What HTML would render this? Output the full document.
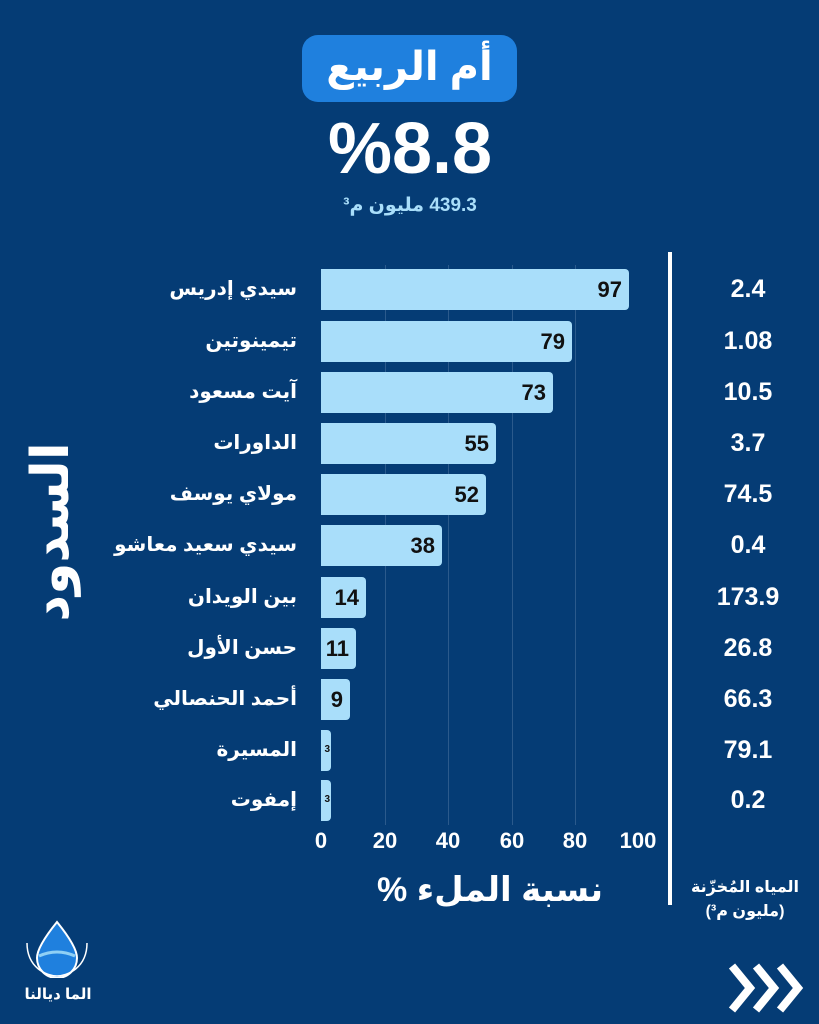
<!DOCTYPE html>
<html><head><meta charset="utf-8"><style>
body{margin:0;width:819px;height:1024px;background:#053c75;overflow:hidden;position:relative;font-family:"Liberation Sans","DejaVu Sans","Noto Sans CJK SC",sans-serif;color:#fff}
.a{position:absolute}
.lbl{position:absolute;right:522px;font-size:20px;font-weight:bold;direction:rtl;white-space:nowrap;line-height:24px}
.bar{position:absolute;left:321px;height:41px;background:#a9defa;border-radius:0 4px 4px 0}
.bar span{position:absolute;right:7px;top:8px;font-size:22px;font-weight:bold;color:#111}
.val{position:absolute;left:690px;width:116px;text-align:center;font-size:25px;font-weight:bold;line-height:30px}
.tick{position:absolute;top:828px;font-size:22px;font-weight:bold;width:60px;text-align:center}
.grid{position:absolute;top:265px;height:560px;width:1px;background:#2b5a8c}
</style></head><body>
<div class="a" style="left:302px;top:35px;width:215px;height:67px;background:#1f80de;border-radius:16px;text-align:center;font-size:40px;font-weight:bold;line-height:64px;direction:rtl">أم الربيع</div>
<div class="a" style="left:260px;top:106px;width:300px;text-align:center;font-size:72px;font-weight:bold;line-height:86px">%8.8</div>
<div class="a" style="left:260px;top:194px;width:300px;text-align:center;font-size:19px;font-weight:bold;color:#a9defa;direction:rtl">439.3 مليون م³</div>

<div class="grid" style="left:385px"></div>
<div class="grid" style="left:448px"></div>
<div class="grid" style="left:512px"></div>
<div class="grid" style="left:575px"></div>
<div class="a" style="left:668px;top:252px;width:4px;height:653px;background:#fff"></div>

<div class="a" style="left:-49px;top:502px;width:200px;height:60px;text-align:center;transform:rotate(-90deg);font-size:52px;font-weight:bold;line-height:60px;direction:rtl">السدود</div>

<div class="lbl" style="top:277px">سيدي إدريس</div>
<div class="lbl" style="top:329px">تيمينوتين</div>
<div class="lbl" style="top:380px">آيت مسعود</div>
<div class="lbl" style="top:431px">الداورات</div>
<div class="lbl" style="top:482px">مولاي يوسف</div>
<div class="lbl" style="top:533px">سيدي سعيد معاشو</div>
<div class="lbl" style="top:585px">بين الويدان</div>
<div class="lbl" style="top:636px">حسن الأول</div>
<div class="lbl" style="top:687px">أحمد الحنصالي</div>
<div class="lbl" style="top:738px">المسيرة</div>
<div class="lbl" style="top:788px">إمفوت</div>

<div class="bar" style="top:269px;width:308px"><span>97</span></div>
<div class="bar" style="top:321px;width:251px"><span>79</span></div>
<div class="bar" style="top:372px;width:232px"><span>73</span></div>
<div class="bar" style="top:423px;width:175px"><span>55</span></div>
<div class="bar" style="top:474px;width:165px"><span>52</span></div>
<div class="bar" style="top:525px;width:121px"><span>38</span></div>
<div class="bar" style="top:577px;width:45px"><span>14</span></div>
<div class="bar" style="top:628px;width:35px"><span>11</span></div>
<div class="bar" style="top:679px;width:29px"><span>9</span></div>
<div class="bar" style="top:730px;width:10px"><span style="font-size:10px;right:1px;top:14px">3</span></div>
<div class="bar" style="top:780px;width:10px"><span style="font-size:10px;right:1px;top:14px">3</span></div>

<div class="val" style="top:274px">2.4</div>
<div class="val" style="top:326px">1.08</div>
<div class="val" style="top:377px">10.5</div>
<div class="val" style="top:428px">3.7</div>
<div class="val" style="top:479px">74.5</div>
<div class="val" style="top:530px">0.4</div>
<div class="val" style="top:582px">173.9</div>
<div class="val" style="top:633px">26.8</div>
<div class="val" style="top:684px">66.3</div>
<div class="val" style="top:735px">79.1</div>
<div class="val" style="top:785px">0.2</div>

<div class="tick" style="left:291px">0</div>
<div class="tick" style="left:355px">20</div>
<div class="tick" style="left:418px">40</div>
<div class="tick" style="left:482px">60</div>
<div class="tick" style="left:545px">80</div>
<div class="tick" style="left:608px">100</div>

<div class="a" style="left:360px;top:870px;width:260px;text-align:center;font-size:34px;font-weight:bold;direction:rtl">نسبة الملء %</div>
<div class="a" style="left:680px;top:876px;width:130px;text-align:center;font-size:16px;font-weight:bold;line-height:24px;direction:rtl">المياه المُخزّنة<br>(مليون م³)</div>

<svg class="a" style="left:22px;top:918px" width="70" height="60" viewBox="0 0 70 60">
<path d="M35 4 C22 20 15 32 15 40 A20 20 0 0 0 55 40 C55 32 48 20 35 4Z" fill="#1f80de" stroke="#fff" stroke-width="2"/>
<path d="M17 38 Q35 30 53 38" stroke="#8fd0f5" stroke-width="3" fill="none"/>
<path d="M5 25 C5 50 25 58 35 58 C45 58 65 50 65 25" stroke="#fff" stroke-width="1.5" fill="none"/>
</svg>
<div class="a" style="left:18px;top:985px;width:80px;text-align:center;font-size:15px;font-weight:bold;direction:rtl">الما ديالنا</div>

<svg class="a" style="left:726px;top:962px" width="80" height="52" viewBox="0 0 80 52">
<g fill="none" stroke="#fff" stroke-width="8" stroke-linejoin="miter">
<polyline points="6,4 24,26 6,48"/><polyline points="30,4 48,26 30,48"/><polyline points="54,4 72,26 54,48"/>
</g></svg>
</body></html>
